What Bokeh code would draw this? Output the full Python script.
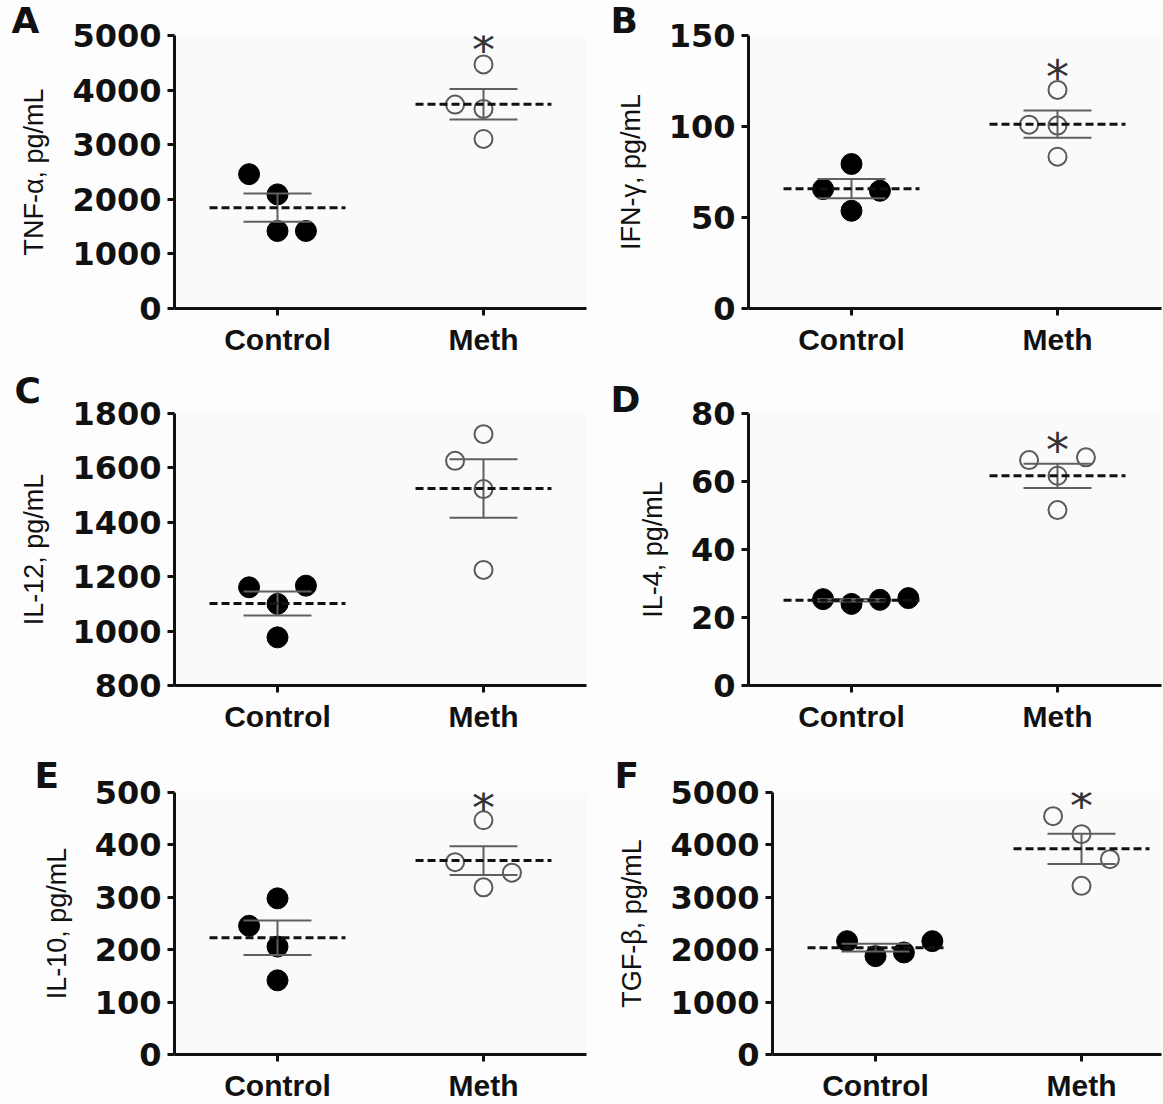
import numpy as np
from bokeh.plotting import figure
from bokeh.layouts import column, row
from bokeh.models import Range1d, FixedTicker, Label
from bokeh.embed import file_html
from bokeh.resources import INLINE

# ---------------- data ----------------
groups = ["Control", "Meth"]

tnf_control = [2460, 2090, 1420, 1420]
tnf_meth = [3735, 3655, 4470, 3105]
ifn_control = [65.6, 79.4, 53.7, 64.7]
ifn_meth = [101.0, 120.1, 100.5, 83.4]
il12_control = [1161, 1167, 1100, 977]
il12_meth = [1626, 1724, 1522, 1225]
il4_control = [25.4, 24.0, 25.2, 25.7]
il4_meth = [66.3, 67.1, 61.7, 51.6]
il10_control = [245.6, 298, 206, 141.5]
il10_meth = [367, 347, 447, 319]
tgf_control = [2163, 1877, 1947, 2163]
tgf_meth = [4548, 4205, 3728, 3219]

# horizontal scatter slot of each point (jitter column)
tnf_ctrl_slot, tnf_meth_slot = [-1, 0, 0, 1], [-1, 0, 0, 0]
ifn_ctrl_slot, ifn_meth_slot = [-1, 0, 0, 1], [-1, 0, 0, 0]
il12_ctrl_slot, il12_meth_slot = [-1, 1, 0, 0], [-1, 0, 0, 0]
il4_ctrl_slot, il4_meth_slot = [-1, 0, 1, 2], [-1, 1, 0, 0]
il10_ctrl_slot, il10_meth_slot = [-1, 0, 0, 0], [-1, 1, 0, 0]
tgf_ctrl_slot, tgf_meth_slot = [-1, 0, 1, 2], [-1, 0, 1, 0]

tnf_ticks = [0, 1000, 2000, 3000, 4000, 5000]
ifn_ticks = [0, 50, 100, 150]
il12_ticks = [800, 1000, 1200, 1400, 1600, 1800]
il4_ticks = [0, 20, 40, 60, 80]
il10_ticks = [0, 100, 200, 300, 400, 500]
tgf_ticks = [0, 1000, 2000, 3000, 4000, 5000]

# significance marker level (None = no marker)
tnf_star, ifn_star, il12_star, il4_star, il10_star, tgf_star = 4880, 131.6, None, 71.5, 485, 4885

# ---------------- drawing ----------------
PX_PER_UNIT = 206
SLOT = 0.138


def panel(letter, ylabel, ctrl, meth, ctrl_slot, meth_slot, ticks, star,
          width, height, mbl, mbr, mbt, mbb, letter_dx, letter_standoff):
    frame_w = width - mbl - mbr
    frame_h = height - mbt - mbb
    y0, y1 = ticks[0], ticks[-1]
    upp = (y1 - y0) / frame_h  # data units per pixel (y)
    x1 = 0.5 + frame_w / PX_PER_UNIT
    p = figure(width=width, height=height, x_range=Range1d(0.5, x1),
               y_range=Range1d(y0, y1), output_backend="svg",
               toolbar_location=None, min_border_left=mbl, min_border_right=mbr,
               min_border_top=mbt, min_border_bottom=mbb)
    p.background_fill_color = "#fafafa"
    p.border_fill_color = "#fdfdfd"
    p.outline_line_color = None
    p.grid.visible = False

    p.title.text = letter
    p.title.align = "left"
    p.title.offset = letter_dx
    p.title.standoff = letter_standoff
    p.title.text_font = "DejaVu Sans"
    p.title.text_font_style = "bold"
    p.title.text_font_size = "36px"
    p.title.text_color = "#111111"

    p.xaxis.ticker = FixedTicker(ticks=[1, 2])
    p.xaxis.major_label_overrides = {1: groups[0], 2: groups[1]}
    p.yaxis.ticker = FixedTicker(ticks=ticks)
    for ax in (p.xaxis[0], p.yaxis[0]):
        ax.axis_line_width = 3
        ax.axis_line_color = "#111111"
        ax.major_tick_line_width = 3
        ax.major_tick_line_color = "#111111"
        ax.major_tick_in = 0
        ax.major_tick_out = 7
        ax.minor_tick_line_color = None
    p.xaxis.major_label_text_font = "Liberation Sans"
    p.xaxis.major_label_text_font_style = "bold"
    p.xaxis.major_label_text_font_size = "30px"
    p.xaxis.major_label_text_color = "#111111"
    p.xaxis.major_label_standoff = 7
    p.yaxis.major_label_text_font = "DejaVu Sans"
    p.yaxis.major_label_text_font_style = "bold"
    p.yaxis.major_label_text_font_size = "32px"
    p.yaxis.major_label_text_color = "#111111"
    p.yaxis.major_label_standoff = 6
    p.yaxis.axis_label = ylabel
    p.yaxis.axis_label_text_font = "Liberation Sans"
    p.yaxis.axis_label_text_font_style = "normal"
    p.yaxis.axis_label_text_font_size = "27px"
    p.yaxis.axis_label_text_color = "#111111"
    p.yaxis.axis_label_standoff = 20

    cx = [1 + s * SLOT for s in ctrl_slot]
    mx = [2 + s * SLOT for s in meth_slot]
    p.scatter(cx, ctrl, size=21, fill_color="black", line_color="black")
    p.scatter(mx, meth, size=18, fill_alpha=0, line_color="#5a5a5a", line_width=2)

    for xc, vals in ((1, ctrl), (2, meth)):
        v = np.asarray(vals, dtype=float)
        m = v.mean()
        sem = v.std(ddof=1) / np.sqrt(len(v))
        p.segment([xc, xc - 0.165, xc - 0.165], [m - sem, m + sem, m - sem],
                  [xc, xc + 0.165, xc + 0.165], [m + sem, m + sem, m - sem],
                  line_width=2, line_color="#5f5f5f")
        p.segment([xc - 0.33], [m], [xc + 0.33], [m], line_width=3,
                  line_color="#111111", line_dash="8 4")

    if star is not None:
        p.add_layout(Label(x=2, y=star - 8 * upp, text="*", text_align="center",
                           text_baseline="alphabetic", text_font="DejaVu Sans",
                           text_font_size="46px", text_color="#333333"))
    return p


pa = panel("A", "TNF-α, pg/mL", tnf_control, tnf_meth, tnf_ctrl_slot, tnf_meth_slot,
           tnf_ticks, tnf_star, 600, 365, 174, 14, 35, 57, -163, -10)
pb = panel("B", "IFN-γ, pg/mL", ifn_control, ifn_meth, ifn_ctrl_slot, ifn_meth_slot,
           ifn_ticks, ifn_star, 563, 365, 148, 2, 35, 57, -138, -10)
pc = panel("C", "IL-12, pg/mL", il12_control, il12_meth, il12_ctrl_slot, il12_meth_slot,
           il12_ticks, il12_star, 600, 375, 174, 14, 48, 55, -160, 5)
pd_ = panel("D", "IL-4, pg/mL", il4_control, il4_meth, il4_ctrl_slot, il4_meth_slot,
            il4_ticks, il4_star, 563, 375, 148, 2, 48, 55, -138, -13)
pe = panel("E", "IL-10, pg/mL", il10_control, il10_meth, il10_ctrl_slot, il10_meth_slot,
           il10_ticks, il10_star, 600, 364, 174, 14, 52, 49, -140, -6)
pf = panel("F", "TGF-β, pg/mL", tgf_control, tgf_meth, tgf_ctrl_slot, tgf_meth_slot,
           tgf_ticks, tgf_star, 563, 364, 172, 2, 52, 49, -158, -6)

layout = column(row(pa, pb), row(pc, pd_), row(pe, pf))
open("out.html", "w").write(file_html(layout, INLINE))
